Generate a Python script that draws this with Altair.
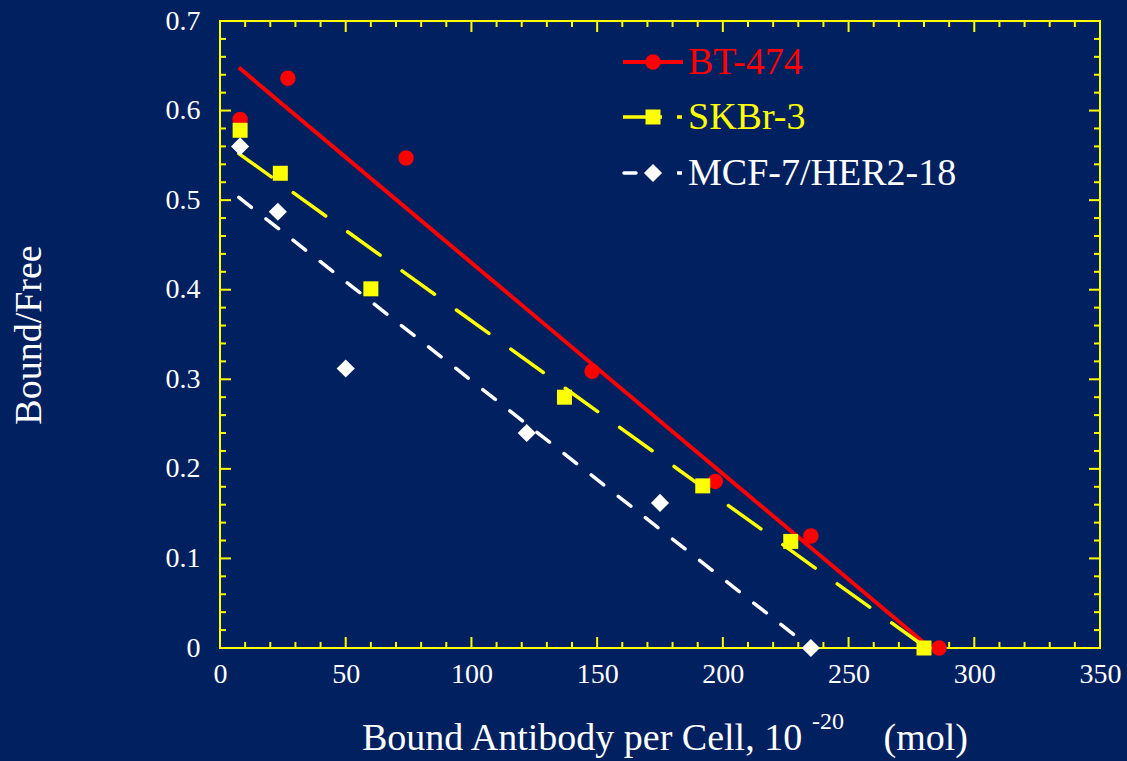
import altair as alt
import pandas as pd

FONT = "Liberation Serif"
BG = "#002060"
RED = "#ff0000"
YEL = "#ffff00"
WHT = "#ffffff"

series = ["BT-474", "SKBr-3", "MCF-7/HER2-18"]

bt_x = [8, 27, 74, 148, 197, 235, 286]
bt_y = [0.590, 0.636, 0.547, 0.309, 0.186, 0.125, 0.0]
sk_x = [8, 24, 60, 137, 192, 227, 280]
sk_y = [0.578, 0.530, 0.401, 0.280, 0.181, 0.119, 0.0]
mc_x = [8, 23, 50, 122, 175, 235]
mc_y = [0.560, 0.487, 0.312, 0.240, 0.162, 0.0]

bt_fit_x = [7.5, 282.5]
bt_fit_y = [0.648, 0.0]
sk_fit_x = [7.5, 281.0]
sk_fit_y = [0.552, 0.0]
mc_fit_x = [7.5, 235.0]
mc_fit_y = [0.503, 0.0]

x_major = [0, 50, 100, 150, 200, 250, 300, 350]
x_minor = [10, 20, 30, 40, 60, 70, 80, 90, 110, 120, 130, 140, 160, 170, 180, 190,
           210, 220, 230, 240, 260, 270, 280, 290, 310, 320, 330, 340]
y_major = [0, 0.1, 0.2, 0.3, 0.4, 0.5, 0.6, 0.7]
y_minor = [0.02, 0.04, 0.06, 0.08, 0.12, 0.14, 0.16, 0.18, 0.22, 0.24, 0.26, 0.28,
           0.32, 0.34, 0.36, 0.38, 0.42, 0.44, 0.46, 0.48, 0.52, 0.54, 0.56, 0.58,
           0.62, 0.64, 0.66, 0.68]

x_title = "Bound Antibody per Cell, 10"
x_title_sup = "-20"
x_title_unit = "(mol)"
y_title = "Bound/Free"

W, H = 880, 627

xs = alt.Scale(domain=[0, 350], nice=False, zero=False)
ys = alt.Scale(domain=[0, 0.7], nice=False, zero=False)
x_axis = alt.Axis(values=x_major, format="d", domain=False, ticks=False, grid=False,
                  labelColor=WHT, labelFont=FONT, labelFontSize=28, labelPadding=12,
                  labelFlush=False, labelOverlap=False)
y_axis = alt.Axis(values=y_major, format="~g", domain=False, ticks=False, grid=False,
                  labelColor=WHT, labelFont=FONT, labelFontSize=28, labelPadding=20,
                  labelFlush=False, labelOverlap=False)


def X():
    return alt.X("x:Q", scale=xs, axis=x_axis, title=None)


def Y():
    return alt.Y("y:Q", scale=ys, axis=y_axis, title=None)


layers = []

# tick marks drawn inside the frame
xmaj = pd.DataFrame({"x": x_major})
xmin = pd.DataFrame({"x": x_minor})
ymaj = pd.DataFrame({"y": y_major})
ymin = pd.DataFrame({"y": y_minor})
rule = dict(color=YEL, strokeWidth=2)
layers += [
    alt.Chart(xmaj).mark_rule(**rule).encode(x=X(), y=alt.value(H), y2=alt.value(H - 11)),
    alt.Chart(xmin).mark_rule(**rule).encode(x=X(), y=alt.value(H), y2=alt.value(H - 6)),
    alt.Chart(xmaj).mark_rule(**rule).encode(x=X(), y=alt.value(0), y2=alt.value(11)),
    alt.Chart(xmin).mark_rule(**rule).encode(x=X(), y=alt.value(0), y2=alt.value(6)),
    alt.Chart(ymaj).mark_rule(**rule).encode(y=Y(), x=alt.value(0), x2=alt.value(11)),
    alt.Chart(ymin).mark_rule(**rule).encode(y=Y(), x=alt.value(0), x2=alt.value(6)),
    alt.Chart(ymaj).mark_rule(**rule).encode(y=Y(), x=alt.value(W), x2=alt.value(W - 11)),
    alt.Chart(ymin).mark_rule(**rule).encode(y=Y(), x=alt.value(W), x2=alt.value(W - 6)),
]

# fit lines
bt_fit = pd.DataFrame({"x": bt_fit_x, "y": bt_fit_y})
sk_fit = pd.DataFrame({"x": sk_fit_x, "y": sk_fit_y})
mc_fit = pd.DataFrame({"x": mc_fit_x, "y": mc_fit_y})
layers += [
    alt.Chart(bt_fit).mark_line(color=RED, strokeWidth=4).encode(x=X(), y=Y()),
    alt.Chart(sk_fit).mark_line(color=YEL, strokeWidth=3.5, strokeDash=[40, 27],
                                strokeCap="round").encode(x=X(), y=Y()),
    alt.Chart(mc_fit).mark_line(color=WHT, strokeWidth=3.5, strokeDash=[16, 18.5],
                                strokeCap="round").encode(x=X(), y=Y()),
]

# data points
bt = pd.DataFrame({"x": bt_x, "y": bt_y})
sk = pd.DataFrame({"x": sk_x, "y": sk_y})
mc = pd.DataFrame({"x": mc_x, "y": mc_y})
layers += [
    alt.Chart(bt).mark_point(filled=True, shape="circle", size=240, color=RED,
                             opacity=1).encode(x=X(), y=Y()),
    alt.Chart(sk).mark_point(filled=True, shape="square", size=225, color=YEL,
                             opacity=1).encode(x=X(), y=Y()),
    alt.Chart(mc).mark_point(filled=True, shape="diamond", size=330, color=WHT,
                             opacity=1).encode(x=X(), y=Y()),
]

# manual legend
one = pd.DataFrame({"k": [0]})
leg = []
rows = [(41, RED, "circle", 240), (96, YEL, "square", 225), (152, WHT, "diamond", 330)]
leg.append(alt.Chart(one).mark_rule(color=RED, strokeWidth=4).encode(
    x=alt.value(403), x2=alt.value(463), y=alt.value(41)))
leg.append(alt.Chart(one).mark_rule(color=YEL, strokeWidth=3.5).encode(
    x=alt.value(403), x2=alt.value(442), y=alt.value(96)))
leg.append(alt.Chart(one).mark_rule(color=YEL, strokeWidth=3.5).encode(
    x=alt.value(457), x2=alt.value(462), y=alt.value(96)))
leg.append(alt.Chart(one).mark_rule(color=WHT, strokeWidth=3.5, strokeCap="round").encode(
    x=alt.value(404), x2=alt.value(416), y=alt.value(152)))
leg.append(alt.Chart(one).mark_rule(color=WHT, strokeWidth=3.5).encode(
    x=alt.value(457), x2=alt.value(462), y=alt.value(152)))
for (yy, col, shp, sz), name in zip(rows, series):
    leg.append(alt.Chart(one).mark_point(filled=True, shape=shp, size=sz, color=col,
                                          opacity=1).encode(x=alt.value(433), y=alt.value(yy)))
    leg.append(alt.Chart(pd.DataFrame({"label": [name]})).mark_text(
        font=FONT, fontSize=38, color=col, align="left", baseline="middle").encode(
        x=alt.value(468), y=alt.value(yy + 1), text="label:N"))
layers += leg

# axis titles
layers += [
    alt.Chart(pd.DataFrame({"t": [y_title]})).mark_text(
        font=FONT, fontSize=38, color=WHT, angle=270, align="center", baseline="middle").encode(
        x=alt.value(-190), y=alt.value(314), text="t:N"),
    alt.Chart(pd.DataFrame({"t": [x_title]})).mark_text(
        font=FONT, fontSize=38, color=WHT, align="left", baseline="alphabetic").encode(
        x=alt.value(142), y=alt.value(729), text="t:N"),
    alt.Chart(pd.DataFrame({"t": [x_title_sup]})).mark_text(
        font=FONT, fontSize=24, color=WHT, align="left", baseline="alphabetic").encode(
        x=alt.value(592), y=alt.value(708), text="t:N"),
    alt.Chart(pd.DataFrame({"t": [x_title_unit]})).mark_text(
        font=FONT, fontSize=38, color=WHT, align="right", baseline="alphabetic").encode(
        x=alt.value(748), y=alt.value(729), text="t:N"),
]

chart = alt.layer(*layers).properties(
    width=W, height=H,
    padding={"left": 220, "top": 21, "right": 27, "bottom": 113},
    autosize=alt.AutoSizeParams(type="none"),
).configure(background=BG).configure_view(stroke=YEL, strokeWidth=2)

chart.save("out.html", embed_options={"renderer": "svg", "actions": False})
